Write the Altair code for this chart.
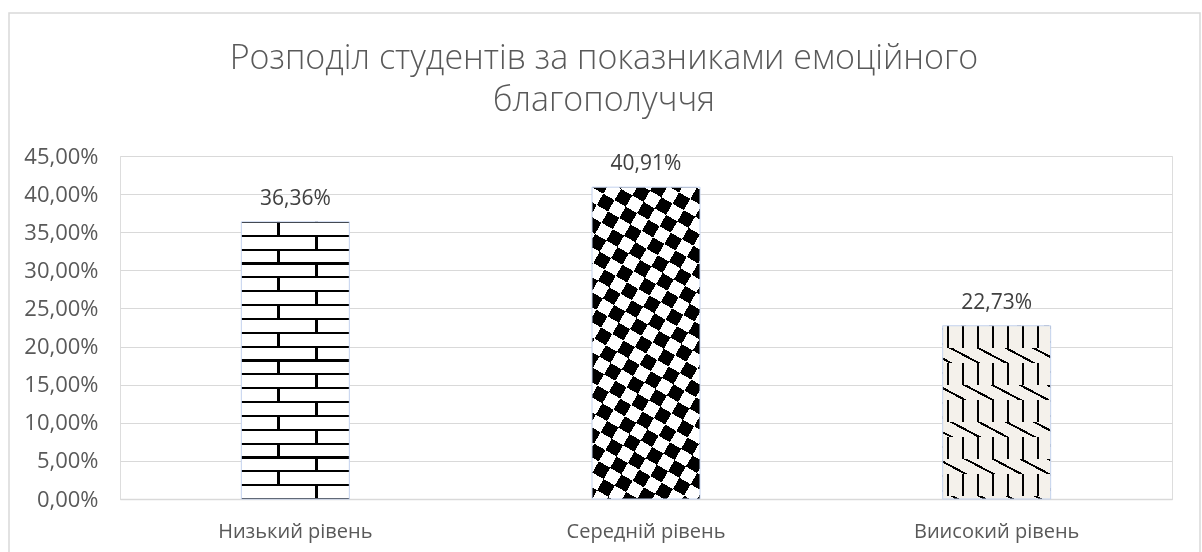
import math
import altair as alt
import pandas as pd

# ---------------- data ----------------
categories = ["Низький рівень", "Середній рівень", "Виисокий рівень"]
values = [0.3636, 0.4091, 0.2273]
y_ticks = [0.0, 0.05, 0.10, 0.15, 0.20, 0.25, 0.30, 0.35, 0.40, 0.45]
title_lines = ["Розподіл студентів за показниками емоційного", "благополуччя"]

df = pd.DataFrame({"cat": categories, "val": values})

# ---------------- layout / style ----------------
W, H = 1052, 343
Y_MAX = 0.45
BAR_W = 108
FONT = "Open Sans"
TXT = "#595959"
GRID = "#d9d9d9"
BLACK, WHITE = "#000000", "#ffffff"


def bar_h(v):
    return v / Y_MAX * H


def _gradient(x1, y1, x2, y2, pmin, L, intervals, c_ink, c_bg):
    stops = [(0.0, c_bg)]
    for s, e in intervals:
        s, e = max(s, pmin), min(e, pmin + L)
        if e <= s:
            continue
        ts, te = (s - pmin) / L, (e - pmin) / L
        stops += [(ts, c_bg), (ts, c_ink), (te, c_ink), (te, c_bg)]
    stops.append((1.0, c_bg))
    clean, last = [], 0.0
    for o, c in stops:
        o = max(last, min(1.0, round(o, 5)))
        clean.append(alt.GradientStop(offset=o, color=c))
        last = o
    return alt.LinearGradient(gradient="linear", x1=x1, y1=y1, x2=x2, y2=y2, stops=clean)


def stripes(w, h, angle_deg, period, ink, c_ink, c_bg, phase=0.0):
    """Hard-edged stripes whose normal points at angle_deg (pixel space, y down)."""
    a = math.radians(angle_deg)
    nx, ny = math.cos(a), math.sin(a)
    corners = [(0, 0), (w, 0), (0, h), (w, h)]
    proj = [nx * cx + ny * cy for cx, cy in corners]
    pmin, pmax = min(proj), max(proj)
    L = pmax - pmin
    cmin = corners[proj.index(pmin)]
    M = nx * nx * w * w + ny * ny * h * h
    k = L / M
    x1, y1 = cmin[0] / w, cmin[1] / h
    x2, y2 = x1 + k * nx * w, y1 + k * ny * h
    i0 = math.floor((pmin - phase) / period) - 1
    i1 = math.ceil((pmax - phase) / period) + 1
    iv = [(phase + i * period, phase + i * period + ink) for i in range(i0, i1 + 1)]
    return _gradient(x1, y1, x2, y2, pmin, L, iv, c_ink, c_bg)


def bands(w, h, direction, intervals, c_ink, c_bg):
    """Ink on explicit pixel intervals across x ('x') or down y ('y')."""
    if direction == "x":
        return _gradient(0, 0, 1, 0, 0.0, float(w), intervals, c_ink, c_bg)
    return _gradient(0, 0, 0, 1, 0.0, float(h), intervals, c_ink, c_bg)


x_enc = alt.X("cat:N", sort=categories, title=None,
              scale=alt.Scale(paddingInner=0, paddingOuter=0),
              axis=alt.Axis(labelFontSize=20, labelColor=TXT, labelFont=FONT, labelAngle=0,
                            ticks=False, domainColor=GRID, domainWidth=1.3, labelPadding=22))
y_enc = alt.Y("val:Q", title=None,
              scale=alt.Scale(domain=[0, Y_MAX], nice=False),
              axis=alt.Axis(values=y_ticks, labelExpr="replace(format(datum.value, '.2%'), '.', ',')",
                            labelFontSize=22, labelColor=TXT, labelFont=FONT, ticks=False,
                            domain=False, gridColor=GRID, gridWidth=1.2, labelPadding=22))

base = alt.Chart(df).encode(x=x_enc, y=y_enc)


def bar_layer(cat, fill, blend=None):
    kw = dict(width=BAR_W, fill=fill, strokeWidth=0)
    if blend:
        kw["blend"] = blend
    return base.transform_filter(alt.datum.cat == cat).mark_bar(**kw)


layers = []

# --- bar 1: brick pattern ---
h1 = bar_h(values[0])
P = h1 / 20.0
col1, col2 = (35.5, 38.5), (74, 77)
even_rows = [(2 * i * P, (2 * i + 1) * P) for i in range(12)]
layers.append(bar_layer(categories[0], bands(BAR_W, h1, "x", [col1, col2], BLACK, WHITE)))
layers.append(bar_layer(categories[0], bands(BAR_W, h1, "y", even_rows, BLACK, WHITE), "lighten"))
layers.append(bar_layer(categories[0], bands(BAR_W, h1, "x", [col2], WHITE, BLACK), "difference"))
layers.append(bar_layer(categories[0], stripes(BAR_W, h1, 90, P, 2.2, BLACK, WHITE, phase=-1.0), "multiply"))

# --- bar 2: checkerboard ---
h2 = bar_h(values[1])
S = 13.0
PHI = 30
layers.append(bar_layer(categories[1], stripes(BAR_W, h2, PHI, 2 * S, S, BLACK, WHITE)))
layers.append(bar_layer(categories[1], stripes(BAR_W, h2, PHI + 90, 2 * S, S, WHITE, BLACK), "difference"))

# --- bar 3: zigzag lines on beige ---
h3 = bar_h(values[2])
ZP = 37.0          # band period (vertical segments + diagonal segments)
ZV = 22.0          # height of the band with vertical segments
v_bands = [(i * ZP, i * ZP + ZV) for i in range(8)]
layers.append(bar_layer(categories[2], stripes(BAR_W, h3, 0, 15, 2.0, BLACK, WHITE, phase=4)))
layers.append(bar_layer(categories[2], stripes(BAR_W, h3, 118, 13, 2.0, WHITE, BLACK, phase=2), "difference"))
layers.append(bar_layer(categories[2], bands(BAR_W, h3, "y", v_bands, BLACK, WHITE), "lighten"))
layers.append(bar_layer(categories[2], stripes(BAR_W, h3, 118, 13, 2.0, WHITE, BLACK, phase=2), "difference"))
layers.append(bar_layer(categories[2], "#f4f1eb", "multiply"))

# --- thin blue outline ---
layers.append(base.mark_bar(width=BAR_W, fill=None, stroke="#c3d2ee", strokeWidth=1))

# --- data labels ---
layers.append(
    base.transform_calculate(lbl="replace(format(datum.val, '.2%'), '.', ',')")
    .mark_text(baseline="alphabetic", dy=-17, fontSize=21, font=FONT, color="#404040")
    .encode(text="lbl:N")
)

# --- outer chart frame ---
frame = alt.Chart(alt.Data(values=[{}])).mark_rect(fill=None, stroke=GRID, strokeWidth=1.5).encode(
    x=alt.value(-111), x2=alt.value(1080), y=alt.value(-143), y2=alt.value(420)
)

chart = alt.layer(frame, *layers).properties(
    width=W, height=H,
    title=alt.TitleParams(title_lines, fontSize=34, font=FONT, fontWeight=300, color=TXT,
                          anchor="middle", dx=-42, offset=0, dy=106, lineHeight=42),
    autosize=alt.AutoSizeParams(type="none"),
    padding={"left": 120, "top": 156, "right": 30, "bottom": 53},
).configure_view(stroke=None).configure(background="#ffffff")

chart.save("out.html", embed_options={"renderer": "svg", "actions": False})
